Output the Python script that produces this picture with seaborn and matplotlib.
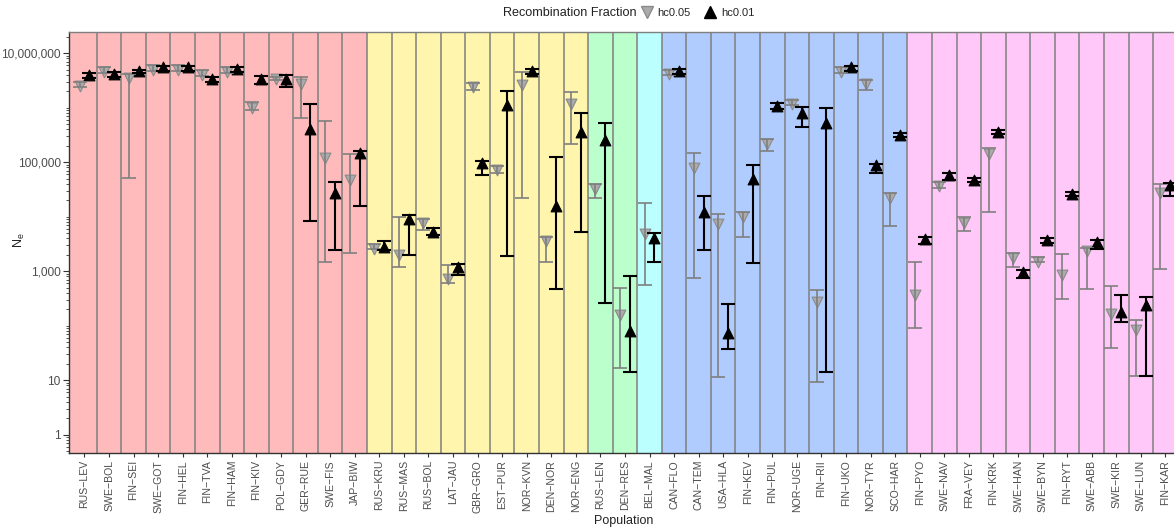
import numpy as np
import pandas as pd
import seaborn as sns
import matplotlib.pyplot as plt
import matplotlib.ticker as ticker
from matplotlib.lines import Line2D

populations = ["RUS-LEV", "SWE-BOL", "FIN-SEI", "SWE-GOT", "FIN-HEL", "FIN-TVA",
               "FIN-HAM", "FIN-KIV", "POL-GDY", "GER-RUE", "SWE-FIS", "JAP-BIW",
               "RUS-KRU", "RUS-MAS", "RUS-BOL", "LAT-JAU", "GBR-GRO", "EST-PUR",
               "NOR-KVN", "DEN-NOR", "NOR-ENG", "RUS-LEN", "DEN-RES", "BEL-MAL",
               "CAN-FLO", "CAN-TEM", "USA-HLA", "FIN-KEV", "FIN-PUL", "NOR-UGE",
               "FIN-RII", "FIN-UKO", "NOR-TYR", "SCO-HAR", "FIN-PYO", "SWE-NAV",
               "FRA-VEY", "FIN-KRK", "SWE-HAN", "SWE-BYN", "FIN-RYT", "SWE-ABB",
               "SWE-KIR", "SWE-LUN", "FIN-KAR"]

# background band for each group of populations (in order)
band_sizes = [12, 9, 2, 1, 10, 11]
band_colors = ["#FFBBBB", "#FFF5AD", "#BBFFCC", "#BBFFFF", "#B0CCFF", "#FFC8F8"]

# hc0.05
ne_05 = [2.45e6, 4.6e6, 3.5e6, 5.0e6, 5.0e6, 4.0e6, 4.5e6, 1.0e6, 3.4e6, 2.7e6, 1.2e5, 4.7e4,
         2.6e3, 2.0e3, 7.5e3, 720, 2.4e6, 7.2e4, 2.6e6, 3.6e3, 1.15e6, 3.2e4, 160, 4.8e3,
         4.1e6, 7.7e4, 7.2e3, 1.0e4, 2.2e5, 1.15e6, 270, 4.6e6, 2.7e6, 2.2e4, 370, 3.6e4,
         7.8e3, 1.4e5, 1750, 1500, 850, 2300, 165, 83, 2.7e4]
lo_05 = [2.35e6, 4.4e6, 5.2e4, 4.8e6, 4.8e6, 3.8e6, 4.3e6, 9.2e5, 3.2e6, 6.5e5, 1.5e3, 2.2e3,
         2.5e3, 1.2e3, 5.7e3, 600, 2.15e6, 6.3e4, 2.2e4, 1.5e3, 2.2e5, 2.2e4, 17, 560,
         3.9e6, 740, 11.5, 4.2e3, 1.6e5, 1.1e6, 9.3, 4.4e6, 2.1e6, 6.8e3, 90, 3.4e4,
         5.5e3, 1.2e4, 1200, 1450, 310, 480, 39, 12, 1.1e3]
hi_05 = [2.9e6, 5.6e6, 4.2e6, 6.0e6, 6.1e6, 5.0e6, 5.7e6, 1.25e6, 3.7e6, 3.6e6, 5.7e5, 1.4e5,
         3.2e3, 1.0e4, 9.2e3, 1300, 2.85e6, 8.5e4, 4.6e6, 4.2e3, 1.95e6, 4.0e4, 500, 1.8e4,
         4.9e6, 1.5e5, 1.1e4, 1.2e4, 2.7e5, 1.4e6, 450, 5.6e6, 3.2e6, 2.7e4, 1450, 4.4e4,
         1.0e4, 1.85e5, 2200, 1800, 2100, 2700, 530, 126, 4.0e4]

# hc0.01
ne_01 = [4.0e6, 4.2e6, 4.7e6, 5.5e6, 5.5e6, 3.4e6, 5.2e6, 3.3e6, 3.3e6, 4.0e5, 2.7e4, 1.45e5,
         2.8e3, 9.0e3, 5.3e3, 1.2e3, 9.5e4, 1.1e6, 4.8e6, 1.6e4, 3.6e5, 2.5e5, 80, 4.1e3,
         4.8e6, 1.2e4, 72, 5.0e4, 1.07e6, 8.0e5, 5.2e5, 5.5e6, 8.7e4, 3.2e5, 3.9e3, 5.8e4,
         4.8e4, 3.6e5, 980, 3.8e3, 2.6e4, 3.4e3, 180, 240, 3.8e4]
lo_01 = [3.5e6, 3.7e6, 4.3e6, 4.8e6, 4.7e6, 3.0e6, 4.6e6, 2.7e6, 2.4e6, 8.5e3, 2.4e3, 1.6e4,
         2.4e3, 2.0e3, 4.6e3, 850, 5.7e4, 1.9e3, 4.2e6, 480, 5.3e3, 260, 14, 1.45e3,
         4.2e6, 2.4e3, 38, 1.4e3, 9.4e5, 4.5e5, 14, 4.8e6, 6.4e4, 2.95e5, 3.1e3, 4.8e4,
         4.4e4, 3.3e5, 760, 3.3e3, 2.35e4, 2.5e3, 115, 12, 2.4e4]
hi_01 = [4.3e6, 4.5e6, 5.0e6, 5.8e6, 5.8e6, 3.6e6, 5.5e6, 3.8e6, 4.0e6, 1.15e6, 4.3e4, 1.6e5,
         3.6e3, 1.07e4, 6.3e3, 1.35e3, 1.05e5, 2.0e6, 5.1e6, 1.25e5, 8.0e5, 5.2e5, 800, 5.1e3,
         5.1e6, 2.4e4, 250, 8.8e4, 1.2e6, 1.02e6, 9.8e5, 5.8e6, 9.4e4, 3.4e5, 4.3e3, 6.4e4,
         5.2e4, 3.9e5, 1070, 4.1e3, 2.8e4, 3.8e3, 365, 340, 4.1e4]

series = {
    "hc0.05": dict(ne=ne_05, lo=lo_05, hi=hi_05, dodge=-0.2, marker="v",
                   fill="#ABABAB", edge="#8A8A8A", bar="#7F7F7F", lw=1.2),
    "hc0.01": dict(ne=ne_01, lo=lo_01, hi=hi_01, dodge=0.2, marker="^",
                   fill="black", edge="black", bar="black", lw=1.5),
}

sns.set_theme(style="white")
plt.rcParams['font.family'] = ['Liberation Sans', 'DejaVu Sans']

fig = plt.figure(figsize=(11.74, 5.31), dpi=100)
ax = fig.add_axes([69 / 1174, 78 / 531, 1105 / 1174, 421 / 531])

n = len(populations)
xmin, xmax = -0.63, n - 1 + 0.35

# coloured bands
start = 0
for size, col in zip(band_sizes, band_colors):
    left = xmin if start == 0 else start - 0.5
    right = xmax if start + size == n else start + size - 0.5
    ax.axvspan(left, right, color=col, lw=0, zorder=0)
    start += size

# cell separators
for k in range(n - 1):
    ax.axvline(k + 0.5, color="#7F7F7F", lw=1.1, zorder=1)

idx = np.arange(n)
for name, s in series.items():
    df = pd.DataFrame({"pop": populations, "x": idx + s["dodge"], "ne": s["ne"],
                       "lo": s["lo"], "hi": s["hi"]})
    sns.scatterplot(data=df, x="x", y="ne", marker=s["marker"], color=s["fill"],
                    edgecolor=s["edge"], linewidth=0.8, s=60, ax=ax, zorder=3,
                    legend=False)
    yerr = [np.clip(df["ne"] - df["lo"], 0, None), np.clip(df["hi"] - df["ne"], 0, None)]
    ax.errorbar(df["x"], df["ne"], yerr=yerr, fmt="none", ecolor=s["bar"],
                elinewidth=s["lw"], capsize=5, capthick=s["lw"], zorder=4)

ax.set_yscale("log")
ax.set_ylim(0.46, 2.45e7)
ax.set_xlim(xmin, xmax)
ax.set_xlabel("")
ax.set_ylabel("")

ax.yaxis.set_major_locator(ticker.FixedLocator([1, 10, 1e3, 1e5, 1e7]))
ax.yaxis.set_major_formatter(ticker.FuncFormatter(lambda v, p: f"{v:,.0f}"))
ax.yaxis.set_minor_locator(ticker.LogLocator(base=10, subs=np.arange(1, 10), numticks=30))
ax.yaxis.set_minor_formatter(ticker.NullFormatter())

ax.set_xticks(idx)
ax.set_xticklabels([p.replace("-", "\u2212") for p in populations], rotation=90,
                   fontsize=7.6, color="#4D4D4D")
ax.tick_params(axis="y", which="major", labelsize=8.6, labelcolor="#4D4D4D",
               length=4, width=0.8, color="#333333", left=True, pad=2)
ax.tick_params(axis="y", which="minor", length=2.5, width=0.6, color="#333333", left=True)
ax.tick_params(axis="x", length=3, width=0.8, color="#333333", bottom=True, pad=2)

for side in ["left", "bottom"]:
    ax.spines[side].set_color("#333333")
    ax.spines[side].set_linewidth(1.0)
ax.spines["top"].set_color("#7F7F7F")
ax.spines["top"].set_linewidth(1.0)
ax.spines["right"].set_visible(False)

# axis titles placed like the reference
fig.text(624 / 1174, 1 - 521 / 531, "Population", fontsize=9, ha="center", va="center",
         color="#222222")
fig.text(19 / 1174, 1 - 240 / 531, r"$\mathregular{N_e}$", fontsize=9, ha="center",
         va="center", rotation=90, color="#222222")

# legend across the top
fig.text(503 / 1174, 1 - 13 / 531, "Recombination Fraction", fontsize=9.1,
         ha="left", va="center", color="#222222")
handles = [Line2D([], [], ls="none", marker=s["marker"], markersize=8,
                  markerfacecolor=s["fill"], markeredgecolor=s["edge"]) for s in series.values()]
fig.legend(handles, list(series.keys()), loc="center left",
           bbox_to_anchor=(641 / 1174, 1 - 13 / 531), ncol=2, frameon=False,
           fontsize=8.0, handlelength=1.0, handletextpad=0.5, columnspacing=1.2,
           borderaxespad=0, borderpad=0)

fig.savefig("out.png", dpi=100)
